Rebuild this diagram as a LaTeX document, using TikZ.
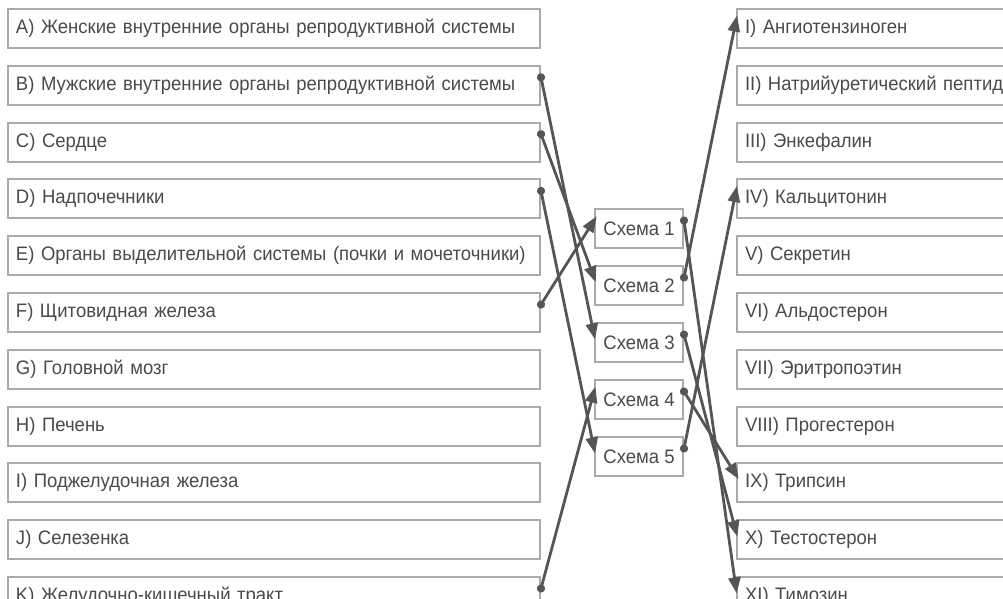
\documentclass[tikz,border=0pt]{standalone}
\usepackage{fontspec}
\setmainfont{Liberation Sans}[FakeStretch=0.95]
\usepackage{xcolor}
\usetikzlibrary{arrows.meta,positioning}
\definecolor{edgegray}{HTML}{AAAAAA}
\definecolor{linkgray}{HTML}{555555}
\definecolor{textgray}{HTML}{4A4A4A}

\begin{document}
\begin{tikzpicture}[
  x=1pt,y=-1pt,
  font=\fontsize{19.5}{22}\selectfont,
  box/.style={draw=edgegray,line width=2pt,text=textgray,inner xsep=8pt,minimum height=39pt,text width=#1,align=left},
  tag/.style={draw=edgegray,line width=2pt,text=textgray,inner xsep=0pt,minimum width=88pt,minimum height=39pt},
  arr/.style={{Circle[length=8pt]}-{Triangle[length=16pt,width=12pt]},line width=2.8pt,draw=linkgray,fill=linkgray,shorten <=-4pt,shorten >=-5pt}
]
\useasboundingbox (0,0) rectangle (1003,598);
\clip (0,0) rectangle (1003,598);
\node[box=516pt] (orgA) at (274,28.5) {A) Женские внутренние органы репродуктивной системы};
\node[box=516pt,below=15.8pt of orgA] (orgB) {B) Мужские внутренние органы репродуктивной системы};
\node[box=516pt,below=15.8pt of orgB] (orgC) {C) Сердце};
\node[box=516pt,below=15.8pt of orgC] (orgD) {D) Надпочечники};
\node[box=516pt,below=15.8pt of orgD] (orgE) {E) Органы выделительной системы (почки и мочеточники)};
\node[box=516pt,below=15.8pt of orgE] (orgF) {F) Щитовидная железа};
\node[box=516pt,below=15.8pt of orgF] (orgG) {G) Головной мозг};
\node[box=516pt,below=15.8pt of orgG] (orgH) {H) Печень};
\node[box=516pt,below=15.8pt of orgH] (orgI) {I) Поджелудочная железа};
\node[box=516pt,below=15.8pt of orgI] (orgJ) {J) Селезенка};
\node[box=516pt,below=15.8pt of orgJ] (orgK) {K) Желудочно-кишечный тракт};
\node[box=284pt,right=195pt of orgA] (hormI) {I) Ангиотензиноген};
\node[box=284pt,right=195pt of orgB] (hormII) {II) Натрийуретический пептид};
\node[box=284pt,right=195pt of orgC] (hormIII) {III) Энкефалин};
\node[box=284pt,right=195pt of orgD] (hormIV) {IV) Кальцитонин};
\node[box=284pt,right=195pt of orgE] (hormV) {V) Секретин};
\node[box=284pt,right=195pt of orgF] (hormVI) {VI) Альдостерон};
\node[box=284pt,right=195pt of orgG] (hormVII) {VII) Эритропоэтин};
\node[box=284pt,right=195pt of orgH] (hormVIII) {VIII) Прогестерон};
\node[box=284pt,right=195pt of orgI] (hormIX) {IX) Трипсин};
\node[box=284pt,right=195pt of orgJ] (hormX) {X) Тестостерон};
\node[box=284pt,right=195pt of orgK] (hormXI) {XI) Тимозин};
\node[tag] (sch1) at (639,228.5) {Схема 1};
\node[tag,below=16pt of sch1] (sch2) {Схема 2};
\node[tag,below=16pt of sch2] (sch3) {Схема 3};
\node[tag,below=16pt of sch3] (sch4) {Схема 4};
\node[tag,below=16pt of sch4] (sch5) {Схема 5};
\draw[arr] ([yshift=8pt]orgB.east) -- ([yshift=8pt]sch3.west);
\draw[arr] ([yshift=8pt]orgC.east) -- ([yshift=8pt]sch2.west);
\draw[arr] ([yshift=8pt]orgD.east) -- ([yshift=8pt]sch5.west);
\draw[arr] ([yshift=8pt]orgF.east) -- ([yshift=8pt]sch1.west);
\draw[arr] ([yshift=8pt]orgK.east) -- ([yshift=8pt]sch4.west);
\draw[arr] ([yshift=8pt]sch1.east) -- ([yshift=8pt]hormXI.west);
\draw[arr] ([yshift=8pt]sch2.east) -- ([yshift=8pt]hormI.west);
\draw[arr] ([yshift=8pt]sch3.east) -- ([yshift=8pt]hormX.west);
\draw[arr] ([yshift=8pt]sch4.east) -- ([yshift=8pt]hormIX.west);
\draw[arr] ([yshift=8pt]sch5.east) -- ([yshift=8pt]hormIV.west);
\end{tikzpicture}
\end{document}
